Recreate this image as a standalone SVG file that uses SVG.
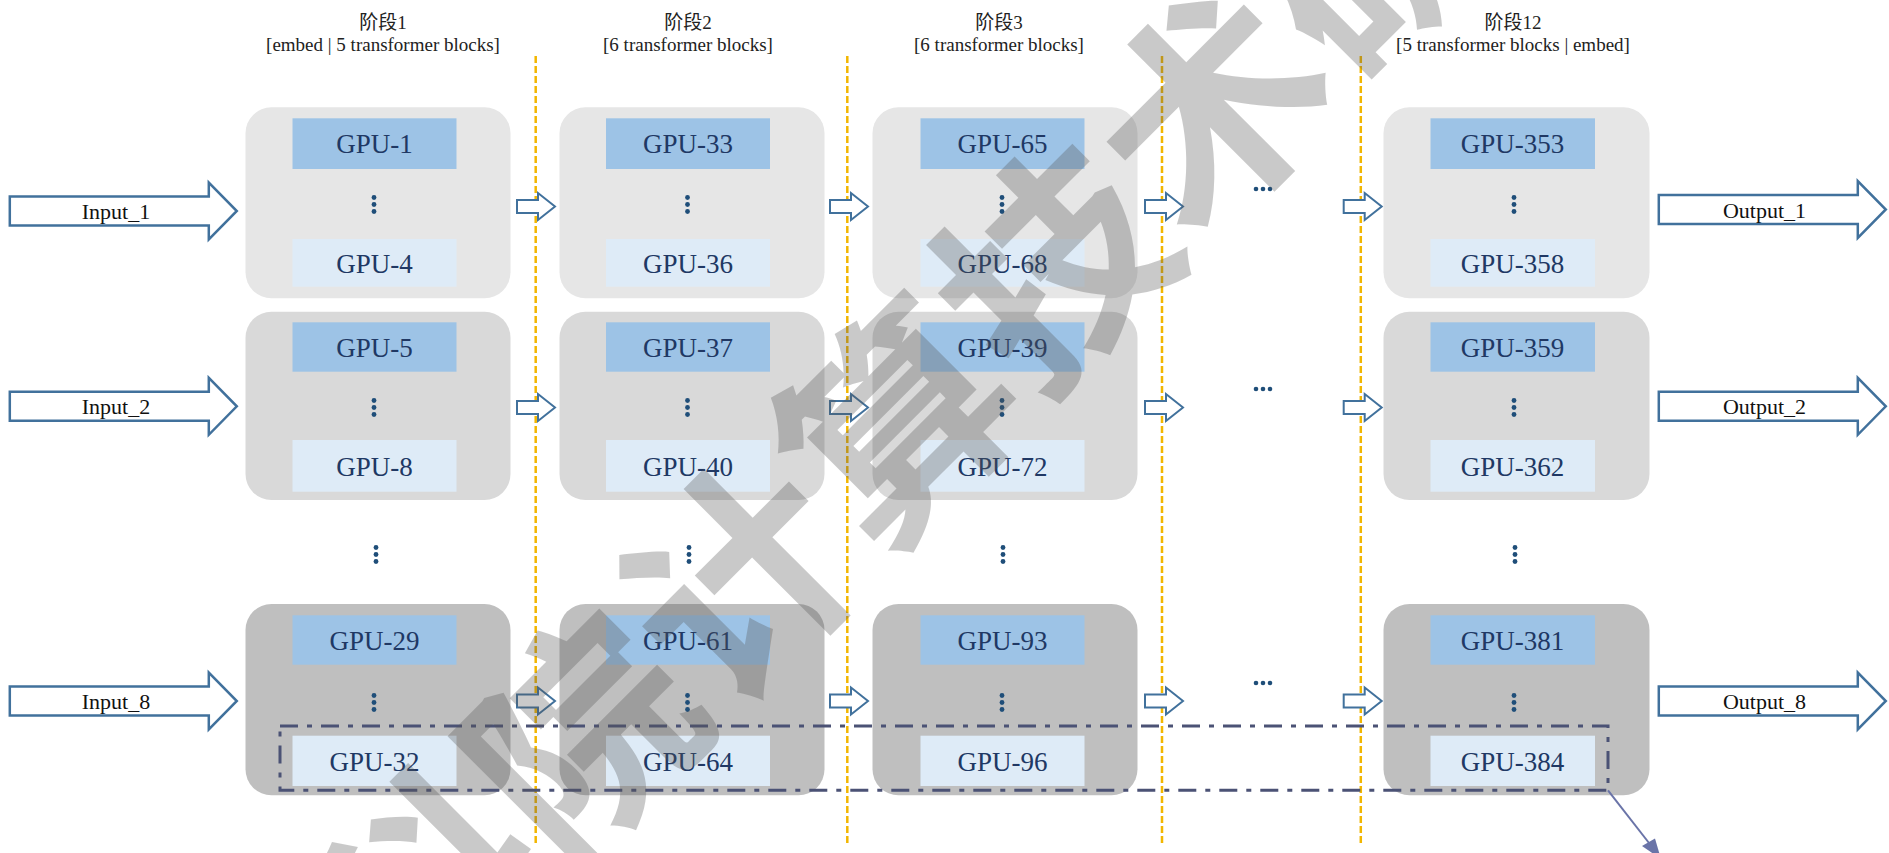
<svg xmlns="http://www.w3.org/2000/svg" width="1889" height="853" viewBox="0 0 1889 853">
<style>
.hdr{font-family:"Liberation Serif","Noto Sans CJK SC",serif;font-size:19px;fill:#222;text-anchor:middle}
.gpu{font-family:"Liberation Serif",serif;font-size:27px;fill:#203864;text-anchor:middle}
.io{font-family:"Liberation Serif",serif;font-size:22px;fill:#111;text-anchor:middle}
.r1{fill:#e6e6e6}.r2{fill:#d9d9d9}.r3{fill:#bfbfbf}
.top{fill:#9dc3e6}.bot{fill:#deebf7}
.dot{fill:#1f4e79}
.big{fill:#fff;stroke:#41719c;stroke-width:2.5;stroke-linejoin:miter}
.small{fill:#fff;stroke:#41719c;stroke-width:2}
.sep{stroke:#f2b600;stroke-width:2.5;stroke-dasharray:7 3;fill:none}
.wm{font-family:"Noto Sans CJK SC",sans-serif;font-size:222px;font-weight:700;fill:#555}
</style>
<defs>
<path id="bigArrow" d="M0,-14.5 H199 V-28.5 L227,0 L199,28.5 V14.5 H0 Z"/>
<path id="smallArrow" d="M0,-6.5 H21 V-13.5 L38,0 L21,13.5 V6.5 H0 Z"/>
<g id="vdots"><circle cx="0" cy="-7" r="2.4"/><circle cx="0" cy="0" r="2.4"/><circle cx="0" cy="7" r="2.4"/></g>
<g id="hdots"><circle cx="-7" cy="0" r="2.3"/><circle cx="0" cy="0" r="2.3"/><circle cx="7" cy="0" r="2.3"/></g>
</defs>
<rect width="1889" height="853" fill="#fff"/>

<g id="headers">
<text class="hdr" x="383" y="29">阶段1</text>
<text class="hdr" x="383" y="50.5">[embed | 5 transformer blocks]</text>
<text class="hdr" x="688" y="29">阶段2</text>
<text class="hdr" x="688" y="50.5">[6 transformer blocks]</text>
<text class="hdr" x="999" y="29">阶段3</text>
<text class="hdr" x="999" y="50.5">[6 transformer blocks]</text>
<text class="hdr" x="1513" y="29">阶段12</text>
<text class="hdr" x="1513" y="50.5">[5 transformer blocks | embed]</text>
</g>

<g id="separators">
<line class="sep" x1="535.7" y1="56" x2="535.7" y2="846"/>
<line class="sep" x1="847.3" y1="56" x2="847.3" y2="846"/>
<line class="sep" x1="1162" y1="56" x2="1162" y2="846"/>
<line class="sep" x1="1360.8" y1="56" x2="1360.8" y2="846"/>
</g>

<!-- Stage 1 -->
<g id="s1-r1"><rect class="r1" x="245.5" y="107.3" width="265" height="191" rx="26"/>
<rect class="top" x="292.5" y="118.3" width="164" height="50.7"/><text class="gpu" x="374.5" y="153.3">GPU-1</text>
<use href="#vdots" class="dot" x="374" y="204.5"/>
<rect class="bot" x="292.5" y="239" width="164" height="47.7"/><text class="gpu" x="374.5" y="272.5">GPU-4</text></g>
<g id="s1-r2"><rect class="r2" x="245.5" y="311.7" width="265" height="188.3" rx="26"/>
<rect class="top" x="292.5" y="322.3" width="164" height="49.4"/><text class="gpu" x="374.5" y="356.5">GPU-5</text>
<use href="#vdots" class="dot" x="374" y="407.5"/>
<rect class="bot" x="292.5" y="440" width="164" height="51.7"/><text class="gpu" x="374.5" y="475.5">GPU-8</text></g>
<g id="s1-r3"><rect class="r3" x="245.5" y="604" width="265" height="191.3" rx="26"/>
<rect class="top" x="292.5" y="615.3" width="164" height="49.4"/><text class="gpu" x="374.5" y="649.5">GPU-29</text>
<use href="#vdots" class="dot" x="374" y="702.5"/>
<rect class="bot" x="292.5" y="735.7" width="164" height="50.3"/><text class="gpu" x="374.5" y="770.5">GPU-32</text></g>

<!-- Stage 2 -->
<g id="s2-r1"><rect class="r1" x="559.5" y="107.3" width="265" height="191" rx="26"/>
<rect class="top" x="606" y="118.3" width="164" height="50.7"/><text class="gpu" x="688" y="153.3">GPU-33</text>
<use href="#vdots" class="dot" x="687.5" y="204.5"/>
<rect class="bot" x="606" y="239" width="164" height="47.7"/><text class="gpu" x="688" y="272.5">GPU-36</text></g>
<g id="s2-r2"><rect class="r2" x="559.5" y="311.7" width="265" height="188.3" rx="26"/>
<rect class="top" x="606" y="322.3" width="164" height="49.4"/><text class="gpu" x="688" y="356.5">GPU-37</text>
<use href="#vdots" class="dot" x="687.5" y="407.5"/>
<rect class="bot" x="606" y="440" width="164" height="51.7"/><text class="gpu" x="688" y="475.5">GPU-40</text></g>
<g id="s2-r3"><rect class="r3" x="559.5" y="604" width="265" height="191.3" rx="26"/>
<rect class="top" x="606" y="615.3" width="164" height="49.4"/><text class="gpu" x="688" y="649.5">GPU-61</text>
<use href="#vdots" class="dot" x="687.5" y="702.5"/>
<rect class="bot" x="606" y="735.7" width="164" height="50.3"/><text class="gpu" x="688" y="770.5">GPU-64</text></g>

<!-- Stage 3 -->
<g id="s3-r1"><rect class="r1" x="872.5" y="107.3" width="265" height="191" rx="26"/>
<rect class="top" x="920.5" y="118.3" width="164" height="50.7"/><text class="gpu" x="1002.5" y="153.3">GPU-65</text>
<use href="#vdots" class="dot" x="1002" y="204.5"/>
<rect class="bot" x="920.5" y="239" width="164" height="47.7"/><text class="gpu" x="1002.5" y="272.5">GPU-68</text></g>
<g id="s3-r2"><rect class="r2" x="872.5" y="311.7" width="265" height="188.3" rx="26"/>
<rect class="top" x="920.5" y="322.3" width="164" height="49.4"/><text class="gpu" x="1002.5" y="356.5">GPU-39</text>
<use href="#vdots" class="dot" x="1002" y="407.5"/>
<rect class="bot" x="920.5" y="440" width="164" height="51.7"/><text class="gpu" x="1002.5" y="475.5">GPU-72</text></g>
<g id="s3-r3"><rect class="r3" x="872.5" y="604" width="265" height="191.3" rx="26"/>
<rect class="top" x="920.5" y="615.3" width="164" height="49.4"/><text class="gpu" x="1002.5" y="649.5">GPU-93</text>
<use href="#vdots" class="dot" x="1002" y="702.5"/>
<rect class="bot" x="920.5" y="735.7" width="164" height="50.3"/><text class="gpu" x="1002.5" y="770.5">GPU-96</text></g>

<!-- Stage 12 -->
<g id="s12-r1"><rect class="r1" x="1383.5" y="107.3" width="266" height="191" rx="26"/>
<rect class="top" x="1430.5" y="118.3" width="164.5" height="50.7"/><text class="gpu" x="1512.5" y="153.3">GPU-353</text>
<use href="#vdots" class="dot" x="1514" y="204.5"/>
<rect class="bot" x="1430.5" y="239" width="164.5" height="47.7"/><text class="gpu" x="1512.5" y="272.5">GPU-358</text></g>
<g id="s12-r2"><rect class="r2" x="1383.5" y="311.7" width="266" height="188.3" rx="26"/>
<rect class="top" x="1430.5" y="322.3" width="164.5" height="49.4"/><text class="gpu" x="1512.5" y="356.5">GPU-359</text>
<use href="#vdots" class="dot" x="1514" y="407.5"/>
<rect class="bot" x="1430.5" y="440" width="164.5" height="51.7"/><text class="gpu" x="1512.5" y="475.5">GPU-362</text></g>
<g id="s12-r3"><rect class="r3" x="1383.5" y="604" width="266" height="191.3" rx="26"/>
<rect class="top" x="1430.5" y="615.3" width="164.5" height="49.4"/><text class="gpu" x="1512.5" y="649.5">GPU-381</text>
<use href="#vdots" class="dot" x="1514" y="702.5"/>
<rect class="bot" x="1430.5" y="735.7" width="164.5" height="50.3"/><text class="gpu" x="1512.5" y="770.5">GPU-384</text></g>

<g id="row-gap-dots" class="dot">
<use href="#vdots" x="376" y="554.5"/>
<use href="#vdots" x="689" y="554.5"/>
<use href="#vdots" x="1003" y="554.5"/>
<use href="#vdots" x="1515" y="554.5"/>
</g>
<g id="ellipsis" class="dot">
<use href="#hdots" x="1263" y="189"/>
<use href="#hdots" x="1263" y="389"/>
<use href="#hdots" x="1263" y="683"/>
</g>

<!-- Inputs / Outputs -->
<g id="input-1"><use href="#bigArrow" class="big" x="9.8" y="211"/><text class="io" x="116" y="218.5">Input_1</text></g>
<g id="input-2"><use href="#bigArrow" class="big" x="9.8" y="406.3"/><text class="io" x="116" y="413.8">Input_2</text></g>
<g id="input-8"><use href="#bigArrow" class="big" x="9.8" y="701"/><text class="io" x="116" y="708.5">Input_8</text></g>
<g id="output-1"><use href="#bigArrow" class="big" x="1658.8" y="209.5"/><text class="io" x="1764.5" y="217.5">Output_1</text></g>
<g id="output-2"><use href="#bigArrow" class="big" x="1658.8" y="406.3"/><text class="io" x="1764.5" y="414.3">Output_2</text></g>
<g id="output-8"><use href="#bigArrow" class="big" x="1658.8" y="701"/><text class="io" x="1764.5" y="709">Output_8</text></g>

<g id="connectors">
<use href="#smallArrow" class="small" x="517" y="206.5"/>
<use href="#smallArrow" class="small" x="830" y="206.5"/>
<use href="#smallArrow" class="small" x="1145" y="206.5"/>
<use href="#smallArrow" class="small" x="1343.7" y="206.5"/>
<use href="#smallArrow" class="small" x="517" y="407.5"/>
<use href="#smallArrow" class="small" x="830" y="407.5"/>
<use href="#smallArrow" class="small" x="1145" y="407.5"/>
<use href="#smallArrow" class="small" x="1343.7" y="407.5"/>
<use href="#smallArrow" class="small" x="517" y="701"/>
<use href="#smallArrow" class="small" x="830" y="701"/>
<use href="#smallArrow" class="small" x="1145" y="701"/>
<use href="#smallArrow" class="small" x="1343.7" y="701"/>
<line x1="1608" y1="790.3" x2="1649" y2="843" stroke="#6a74a8" stroke-width="2"/>
<polygon points="1661,859 1642,846 1655,838.5" fill="#6a74a8"/>
</g>

<g id="highlight">
<rect x="280" y="726" width="1328" height="64.3" fill="none" stroke="#4b5275" stroke-width="3" stroke-dasharray="18 9 5 9"/>
</g>

<g id="watermark" opacity="0.31">
<text class="wm" transform="translate(250,1188) rotate(-45)">中科院计算技术研究所</text>
</g>
</svg>
